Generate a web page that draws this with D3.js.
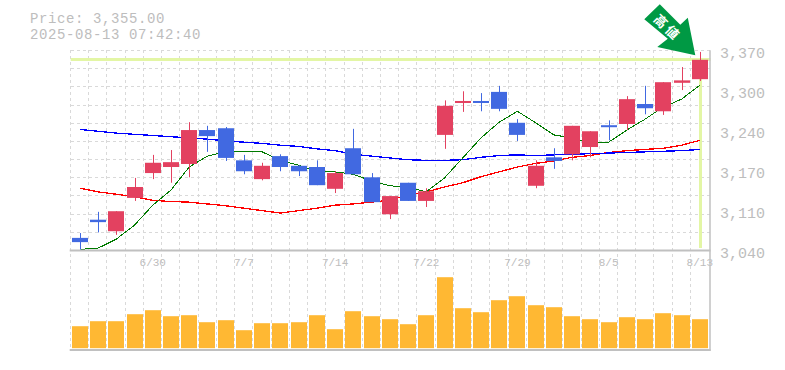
<!DOCTYPE html>
<html><head><meta charset="utf-8">
<script src="https://cdn.jsdelivr.net/npm/d3@7/dist/d3.min.js"></script>
<style>html,body{margin:0;padding:0;background:#fff}svg{display:block}
text{font-family:"Liberation Mono",monospace;fill:#bdbdbd}</style></head><body>
<svg id="c" width="785" height="370"></svg>
<script>
const dates=["6/24","6/25","6/26","6/27","6/30","7/1","7/2","7/3","7/4","7/7","7/8","7/9","7/10","7/11","7/14","7/15","7/16","7/17","7/18","7/22","7/23","7/24","7/25","7/28","7/29","7/30","7/31","8/1","8/4","8/5","8/6","8/7","8/8","8/12","8/13"];
const shownDates=["6/30","7/7","7/14","7/22","7/29","8/5","8/13"];
const opens=[3061,3091,3072,3127,3168,3178,3183,3239,3242,3189,3158,3196,3180,3178,3142,3209,3161,3100,3152,3122,3231,3284,3287,3302,3251,3147,3194,3199,3211,3247,3249,3282,3270,3317,3323];
const closes=[3054,3087,3105,3145,3185,3186,3239,3229,3193,3171,3180,3178,3171,3148,3168,3166,3120,3130,3122,3138,3279,3287,3284,3274,3231,3180,3188,3246,3237,3244,3290,3275,3318,3321,3355];
const highs=[3069,3104,3105,3160,3198,3206,3252,3246,3244,3198,3185,3199,3181,3189,3171,3241,3168,3130,3152,3143,3288,3303,3300,3312,3257,3189,3209,3246,3237,3255,3295,3312,3318,3343,3368];
const lows=[3040,3070,3066,3122,3158,3152,3161,3203,3188,3166,3156,3171,3163,3148,3135,3166,3120,3092,3122,3112,3208,3269,3270,3270,3221,3143,3175,3189,3194,3222,3239,3265,3264,3305,3320];
const maShort=[3042,3044,3059,3082,3115,3140,3178,3196,3203,3204,3203,3189,3181,3171,3170,3166,3155,3147,3145,3137,3160,3193,3226,3252,3270,3251,3231,3226,3218,3219,3239,3257,3277,3290,3313];
const maMid=[3240,3237,3234,3232,3230,3228,3226,3224,3221,3219,3217,3214,3212,3208,3205,3199,3196,3193,3190,3189,3189,3190,3194,3197,3198,3197,3198,3199,3200,3201,3202,3203,3204,3205,3207];
const maLong=[3143,3137,3133,3129,3123,3121,3120,3117,3114,3110,3106,3102,3106,3110,3115,3117,3120,3123,3132,3137,3145,3152,3162,3170,3178,3184,3188,3194,3197,3202,3205,3207,3209,3214,3222];
const volumes=[22,27,27,34,38,32,33,26,28,18,25,25,26,33,19,37,32,29,24,33,71,40,36,48,52,43,41,32,29,26,31,29,35,33,29];
const priceLabels=["3,370","3,300","3,240","3,170","3,110","3,040"];
const priceLabelValues=[3370,3304,3238,3172,3106,3040];
const gridPrices=d3.range(3040,3371,30);
const currentPrice=3355;
const priceText="Price: 3,355.00";
const timeText="2025-08-13 07:42:40";
const arrowGlyphs=["高","値"];

const svg=d3.select("#c");
const L=70.7,R=708.9,AR=710.5,T=50.2,B=250.6,VB=350;
const x=d3.scaleBand().domain(dates).range([L,R]);
const y=d3.scaleLinear().domain([3040,3370]).range([B,50.7]);
const v=d3.scaleLinear().domain([0,71]).range([348.2,277.2]);
const cx=d=>x(d)+x.bandwidth()/2;
const RED="#e34160",BLUE="#4169e1",GRID="#d9d9d9",AX="#c0c0c0",LIME="#e3f6a5";

// grid
const g=svg.append("g").attr("stroke",GRID).attr("stroke-dasharray","3,3").attr("shape-rendering","crispEdges");
g.selectAll("line.h").data(gridPrices.slice(1)).join("line").attr("class","h")
 .attr("x1",L).attr("x2",AR).attr("y1",d=>Math.floor(y(d)-.2)+.5).attr("y2",d=>Math.floor(y(d)-.2)+.5);
g.selectAll("line.v").data(dates).join("line").attr("class","v")
 .attr("x1",d=>Math.round(x(d)-.7)+.5).attr("x2",d=>Math.round(x(d)-.7)+.5).attr("y1",T).attr("y2",VB);

// current price highlight
const hy=Math.round(y(currentPrice))-.5, hx=Math.round(cx(dates[34]))+.5;
svg.append("line").attr("x1",L).attr("x2",AR).attr("y1",hy).attr("y2",hy).attr("stroke",LIME).attr("stroke-width",3);
svg.append("line").attr("x1",hx).attr("x2",hx).attr("y1",hy).attr("y2",248).attr("stroke",LIME).attr("stroke-width",3);

// volume
svg.append("g").selectAll("rect").data(volumes).join("rect")
 .attr("x",(d,i)=>Math.round(cx(dates[i])-8)).attr("width",16)
 .attr("y",d=>v(d)).attr("height",d=>v(0)-v(d)).attr("fill","#ffb833");

// moving averages
const ln=d3.line().x((d,i)=>cx(dates[i])).y(d=>y(d));
[[maLong,"#ff0000",1.3],[maMid,"#0000ff",1.3],[maShort,"#007a00",1]].forEach(([s,c,w])=>
 svg.append("path").attr("d",ln(s)).attr("fill","none").attr("stroke",c).attr("stroke-width",w).attr("shape-rendering","crispEdges"));

// candles
const col=i=>closes[i]>=opens[i]?RED:BLUE;
const cg=svg.append("g");
cg.selectAll("line").data(dates).join("line")
 .attr("x1",d=>Math.round(cx(d))+.5).attr("x2",d=>Math.round(cx(d))+.5)
 .attr("y1",(d,i)=>y(highs[i])).attr("y2",(d,i)=>y(lows[i]))
 .attr("stroke",(d,i)=>col(i)).attr("stroke-width",1);
cg.selectAll("rect").data(dates).join("rect")
 .attr("x",d=>Math.round(cx(d)-8)).attr("width",16)
 .attr("y",(d,i)=>y(Math.max(opens[i],closes[i])))
 .attr("height",(d,i)=>Math.max(2,Math.abs(y(opens[i])-y(closes[i]))))
 .attr("fill",(d,i)=>col(i));

// labels
svg.selectAll("text.d").data(shownDates).join("text").attr("class","d")
 .attr("x",d=>cx(d)).attr("y",266).attr("text-anchor","middle").attr("font-size",11).text(d=>d);

// axes frames
const ax=svg.append("g").attr("stroke",AX).attr("fill","none");
ax.append("line").attr("x1",L-1).attr("x2",AR).attr("y1",B).attr("y2",B).attr("stroke-width",2);
ax.append("line").attr("x1",L-1).attr("x2",AR).attr("y1",VB).attr("y2",VB).attr("stroke-width",2);
ax.append("line").attr("x1",AR-.5).attr("x2",AR-.5).attr("y1",T).attr("y2",VB+1).attr("stroke-width",1.5);

svg.selectAll("text.p").data(priceLabels).join("text").attr("class","p")
 .attr("x",720).attr("y",(d,i)=>y(priceLabelValues[i])+7).attr("font-size",15).text(d=>d);
svg.append("text").attr("x",30).attr("y",22.5).attr("font-size",14).attr("letter-spacing",.6).text(priceText);
svg.append("text").attr("x",30).attr("y",38.5).attr("font-size",14).attr("letter-spacing",.6).text(timeText);

// pointer arrow to the latest candle
const tipX=cx(dates[34])-4.5, tipY=y(currentPrice)-4.5;
const arrowShape=[[0,0],[-7.5,-37.5],[-15,-30.5],[-35.5,-51],[-51,-36],[-27.5,-16.5],[-38,-8.3]];
svg.append("polygon").attr("points",arrowShape.map(p=>[tipX+p[0],tipY+p[1]].join(",")).join(" ")).attr("fill","#009944");
arrowGlyphs.forEach((t,i)=>{
 svg.append("text").attr("transform",`translate(${tipX-34.5+i*11.3},${tipY-34+i*11}) rotate(45)`)
  .attr("text-anchor","middle").attr("dy","0.36em").attr("font-size",13).attr("font-weight",700)
  .style("font-family",'"Noto Sans CJK JP"').style("fill","#fff").text(t);
});
</script></body></html>
